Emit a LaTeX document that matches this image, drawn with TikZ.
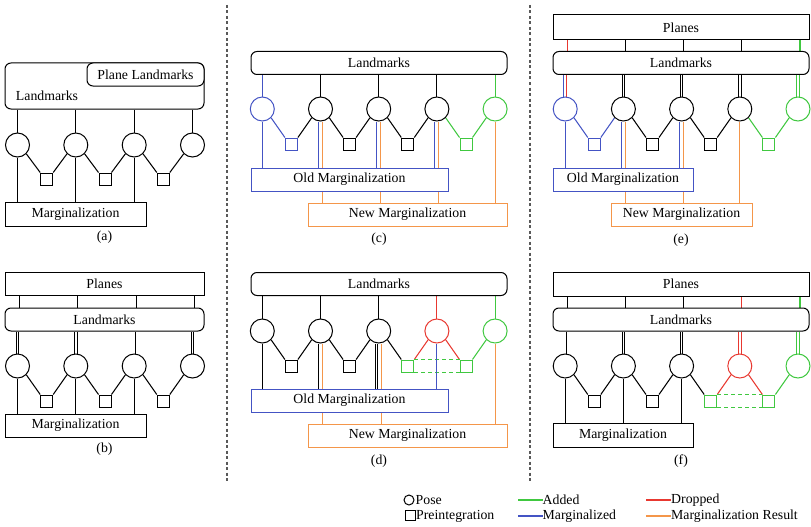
\documentclass[tikz,border=0pt]{standalone}
\usepackage{fontspec}
\setmainfont{Liberation Serif}
\usetikzlibrary{calc}
\pgfdeclarelayer{bg}
\pgfsetlayers{bg,main}
\definecolor{cblue}{RGB}{68,84,196}
\definecolor{cgreen}{RGB}{64,200,64}
\definecolor{cred}{RGB}{232,56,48}
\definecolor{corange}{RGB}{244,150,74}
\tikzset{
  every node/.style={font=\fontsize{13.8}{16}\selectfont},
  pose/.style={circle, draw, fill=white, line width=1pt, minimum size=24pt, inner sep=0pt},
  preint/.style={rectangle, draw, fill=white, line width=1pt, minimum size=12pt, inner sep=0pt},
  lmbox/.style={rectangle, rounded corners=6pt, draw, fill=white, line width=1pt, minimum height=23pt, inner sep=0pt},
  sqbox/.style={rectangle, draw, fill=white, line width=1pt, minimum height=23pt, inner sep=0pt},
  link/.style={line width=1.05pt},
  dlink/.style={line width=0.9pt, double, double distance=1.6pt},
  thin link/.style={line width=0.9pt},
  dashlink/.style={line width=1.05pt, dash pattern=on 4pt off 3pt},
  tag/.style={inner sep=0pt},
  sep/.style={line width=1.3pt, gray!70!black, dash pattern=on 3pt off 2.5pt},
}
\begin{document}
\begin{tikzpicture}[x=1pt,y=-1pt]
\useasboundingbox (0,0) rectangle (811,527);

% ---------------- (a) ----------------
\node[lmbox, minimum width=199pt, minimum height=46pt] (a-lm) at (104.5,86) {};
\node[lmbox, minimum width=117pt] (a-plm) at (145.5,74.5) {Plane Landmarks};
\node[tag] (a-lmt) at (47,96) {Landmarks};
\foreach \i/\x in {1/17.5,2/75.8,3/134.2,4/192.5}
  \node[pose] (a-p\i) at (\x,145) {};
\foreach \i/\x in {1/46.7,2/105,3/163.3}
  \node[preint] (a-s\i) at (\x,179) {};
\node[sqbox, minimum width=141pt, minimum height=24pt] (a-mg) at (75.5,214) {Marginalization};
\node[tag] (a-cap) at (104.5,237) {(a)};

% ---------------- (b) ----------------
\node[sqbox, minimum width=199pt] (b-pl) at (104.5,283.5) {Planes};
\node[lmbox, minimum width=199pt] (b-lm) at (104.5,319.5) {Landmarks};
\foreach \i/\x in {1/17.5,2/75.8,3/134.2,4/192.5}
  \node[pose] (b-p\i) at (\x,366) {};
\foreach \i/\x in {1/46.7,2/105,3/163.3}
  \node[preint] (b-s\i) at (\x,401) {};
\node[sqbox, minimum width=141pt] (b-mg) at (75.5,425.5) {Marginalization};
\node[tag] (b-cap) at (104.5,449) {(b)};

% ---------------- (c) ----------------
\node[lmbox, minimum width=256pt] (c-lm) at (379,63) {Landmarks};
\foreach \i/\x/\c in {1/262.3/cblue,2/320.5/black,3/378.7/black,4/436.9/black,5/495.1/cgreen}
  \node[pose, draw=\c] (c-p\i) at (\x,109) {};
\foreach \i/\x/\c in {1/291.4/cblue,2/349.6/black,3/407.8/black,4/466/cgreen}
  \node[preint, draw=\c] (c-s\i) at (\x,144) {};
\node[sqbox, draw=cblue, minimum width=197pt] (c-old) at (349.5,179.5) {Old Marginalization};
\node[sqbox, draw=corange, minimum width=199pt] (c-new) at (407.5,214.5) {New Marginalization};
\node[tag] (c-cap) at (379,239) {(c)};

% ---------------- (d) ----------------
\node[lmbox, minimum width=256pt] (d-lm) at (379,284) {Landmarks};
\foreach \i/\x/\c in {1/262.3/black,2/320.5/black,3/378.7/black,4/436.9/cred,5/495.1/cgreen}
  \node[pose, draw=\c] (d-p\i) at (\x,331) {};
\foreach \i/\x/\c in {1/291.4/black,2/349.6/black,3/407.8/cgreen,4/466/cgreen}
  \node[preint, draw=\c] (d-s\i) at (\x,366) {};
\node[sqbox, draw=cblue, minimum width=197pt] (d-old) at (349.5,400.5) {Old Marginalization};
\node[sqbox, draw=corange, minimum width=199pt] (d-new) at (407.5,435.5) {New Marginalization};
\node[tag] (d-cap) at (379,461) {(d)};

% ---------------- (e) ----------------
\node[sqbox, minimum width=256pt, minimum height=25pt] (e-pl) at (681,27.5) {Planes};
\node[lmbox, minimum width=256pt] (e-lm) at (681,63) {Landmarks};
\foreach \i/\x/\c in {1/565.2/cblue,2/623.4/black,3/681.6/black,4/739.8/black,5/798/cgreen}
  \node[pose, draw=\c] (e-p\i) at (\x,109) {};
\foreach \i/\x/\c in {1/594.3/cblue,2/652.5/black,3/710.7/black,4/768.9/cgreen}
  \node[preint, draw=\c] (e-s\i) at (\x,144) {};
\node[sqbox, draw=cblue, minimum width=140pt] (e-old) at (623,179.5) {Old Marginalization};
\node[sqbox, draw=corange, minimum width=141pt] (e-new) at (681.5,214.5) {New Marginalization};
\node[tag] (e-cap) at (681,240) {(e)};

% ---------------- (f) ----------------
\node[sqbox, minimum width=256pt, minimum height=24pt] (f-pl) at (681,284) {Planes};
\node[lmbox, minimum width=256pt] (f-lm) at (681,319.5) {Landmarks};
\foreach \i/\x/\c in {1/565.2/black,2/623.4/black,3/681.6/black,4/739.8/cred,5/798/cgreen}
  \node[pose, draw=\c] (f-p\i) at (\x,366) {};
\foreach \i/\x/\c in {1/594.3/black,2/652.5/black,3/710.7/cgreen,4/768.9/cgreen}
  \node[preint, draw=\c] (f-s\i) at (\x,401) {};
\node[sqbox, minimum width=140pt, minimum height=24pt] (f-mg) at (623,435) {Marginalization};
\node[tag] (f-cap) at (681,461) {(f)};

% ---------------- legend ----------------
\node[circle, draw, line width=1pt, minimum size=10pt, inner sep=0pt] (lg-pose) at (409,500) {};
\node[tag, anchor=west] (lg-poset) at (415.5,500) {Pose};
\node[preint, minimum size=9.5pt] (lg-pre) at (410.5,515.5) {};
\node[tag, anchor=west] (lg-pret) at (416,516) {Preintegration};
\node[tag, anchor=west] (lg-add) at (542.5,500) {Added};
\node[tag, anchor=west] (lg-mar) at (542.5,516) {Marginalized};
\node[tag, anchor=west] (lg-drop) at (671,500) {Dropped};
\node[tag, anchor=west] (lg-res) at (671,516) {Marginalization Result};
\coordinate (lg-add0) at (518,500);
\coordinate (lg-mar0) at (518,516);
\coordinate (lg-drop0) at (646,500);
\coordinate (lg-res0) at (646,516);
\draw[link, cgreen] (lg-add0) -- (lg-add.west);
\draw[link, cblue] (lg-mar0) -- (lg-mar.west);
\draw[link, cred] (lg-drop0) -- (lg-drop.west);
\draw[link, corange] (lg-res0) -- (lg-res.west);

% panel separators
\draw[sep] (227,5) -- (227,482);
\draw[sep] (530,5) -- (530,482);

\begin{pgfonlayer}{bg}
% (a)
\foreach \i in {1,...,4} \draw[link] (a-p\i |- a-lm.south) -- (a-p\i.north);
\foreach \i/\j in {1/2,2/3,3/4} {
  \draw[link] (a-p\i.south east) -- (a-s\i.north west);
  \draw[link] (a-p\j.south west) -- (a-s\i.north east);
}
\foreach \i in {1,2,3} \draw[link] (a-p\i.south) -- (a-p\i |- a-mg.north);

% (b)
\foreach \i in {1,...,4} {
  \draw[link] ($(b-p\i |- b-pl.south)+(2,0)$) -- ($(b-p\i |- b-lm.north)+(2,0)$);
  \draw[dlink] (b-p\i |- b-lm.south) -- (b-p\i.north);
}
\foreach \i/\j in {1/2,2/3,3/4} {
  \draw[link] (b-p\i.south east) -- (b-s\i.north west);
  \draw[link] (b-p\j.south west) -- (b-s\i.north east);
}
\foreach \i in {1,2,3} \draw[link] (b-p\i.south) -- (b-p\i |- b-mg.north);

% (c)
\foreach \i/\c in {1/cblue,2/black,3/black,4/black,5/cgreen}
  \draw[link, \c] (c-p\i |- c-lm.south) -- (c-p\i.north);
\foreach \i/\j/\ca/\cb in {1/2/cblue/black,2/3/black/black,3/4/black/black,4/5/cgreen/cgreen} {
  \draw[link, \ca] (c-p\i.south east) -- (c-s\i.north west);
  \draw[link, \cb] (c-p\j.south west) -- (c-s\i.north east);
}
\draw[link, cblue] (c-p1.south) -- (c-p1 |- c-old.north);
\foreach \i in {2,3,4} {
  \draw[link, cblue] ($(c-p\i.south)+(-2,0)$) -- ($(c-p\i |- c-old.north)+(-2,0)$);
  \draw[link, corange] ($(c-p\i.south)+(2,0)$) -- ($(c-p\i |- c-new.north)+(2,0)$);
}
\draw[link, corange] (c-p5.south) -- (c-p5 |- c-new.north);

% (d)
\foreach \i/\c in {1/black,2/black,3/black,4/cred,5/cgreen}
  \draw[link, \c] (d-p\i |- d-lm.south) -- (d-p\i.north);
\foreach \i/\j/\ca/\cb in {1/2/black/black,2/3/black/black,3/4/black/cred,4/5/cred/cgreen} {
  \draw[link, \ca] (d-p\i.south east) -- (d-s\i.north west);
  \draw[link, \cb] (d-p\j.south west) -- (d-s\i.north east);
}
\draw[dashlink, cgreen] (d-s3.north east) -- (d-s4.north west);
\draw[dashlink, cgreen] (d-s3.south east) -- (d-s4.south west);
\draw[link] (d-p1.south) -- (d-p1 |- d-old.north);
\draw[link] ($(d-p2.south)+(-2,0)$) -- ($(d-p2 |- d-old.north)+(-2,0)$);
\draw[link, corange] ($(d-p2.south)+(2,0)$) -- ($(d-p2 |- d-new.north)+(2,0)$);
\draw[thin link] ($(d-p3.south)+(-3.6,0)$) -- ($(d-p3 |- d-old.north)+(-3.6,0)$);
\draw[thin link] ($(d-p3.south)+(-1.2,0)$) -- ($(d-p3 |- d-old.north)+(-1.2,0)$);
\draw[link, corange] ($(d-p3.south)+(2.4,0)$) -- ($(d-p3 |- d-new.north)+(2.4,0)$);
\draw[link, cblue] (d-p4.south) -- (d-p4 |- d-old.north);
\draw[link, corange] (d-p5.south) -- (d-p5 |- d-new.north);

% (e)
\foreach \i/\c in {1/cred,2/black,3/black,4/black,5/cgreen}
  \draw[link, \c] ($(e-p\i |- e-pl.south)+(2,0)$) -- ($(e-p\i |- e-lm.north)+(2,0)$);
\draw[thin link, cblue] ($(e-p1 |- e-lm.south)+(-1.5,0)$) -- ($(e-p1.north)+(-1.5,0)$);
\draw[thin link, cred] ($(e-p1 |- e-lm.south)+(1.5,0)$) -- ($(e-p1.north)+(1.5,0)$);
\foreach \i/\c in {2/black,3/black,4/black,5/cgreen}
  \draw[dlink, \c] (e-p\i |- e-lm.south) -- (e-p\i.north);
\foreach \i/\j/\ca/\cb in {1/2/cblue/cblue,2/3/black/black,3/4/black/black,4/5/cgreen/cgreen} {
  \draw[link, \ca] (e-p\i.south east) -- (e-s\i.north west);
  \draw[link, \cb] (e-p\j.south west) -- (e-s\i.north east);
}
\draw[link, cblue] (e-p1.south) -- (e-p1 |- e-old.north);
\foreach \i in {2,3} {
  \draw[link, cblue] ($(e-p\i.south)+(-2,0)$) -- ($(e-p\i |- e-old.north)+(-2,0)$);
  \draw[link, corange] ($(e-p\i.south)+(2,0)$) -- ($(e-p\i |- e-new.north)+(2,0)$);
}
\draw[link, corange] (e-p4.south) -- (e-p4 |- e-new.north);

% (f)
\foreach \i/\c in {1/black,2/black,3/black,4/cred,5/cgreen} {
  \draw[link, \c] ($(f-p\i |- f-pl.south)+(2,0)$) -- ($(f-p\i |- f-lm.north)+(2,0)$);
  \draw[dlink, \c] (f-p\i |- f-lm.south) -- (f-p\i.north);
}
\foreach \i/\j/\ca/\cb in {1/2/black/black,2/3/black/black,3/4/black/cred,4/5/cred/cgreen} {
  \draw[link, \ca] (f-p\i.south east) -- (f-s\i.north west);
  \draw[link, \cb] (f-p\j.south west) -- (f-s\i.north east);
}
\draw[dashlink, cgreen] (f-s3.north east) -- (f-s4.north west);
\draw[dashlink, cgreen] (f-s3.south east) -- (f-s4.south west);
\foreach \i in {1,2,3} \draw[link] (f-p\i.south) -- (f-p\i |- f-mg.north);
\end{pgfonlayer}
\end{tikzpicture}
\end{document}
